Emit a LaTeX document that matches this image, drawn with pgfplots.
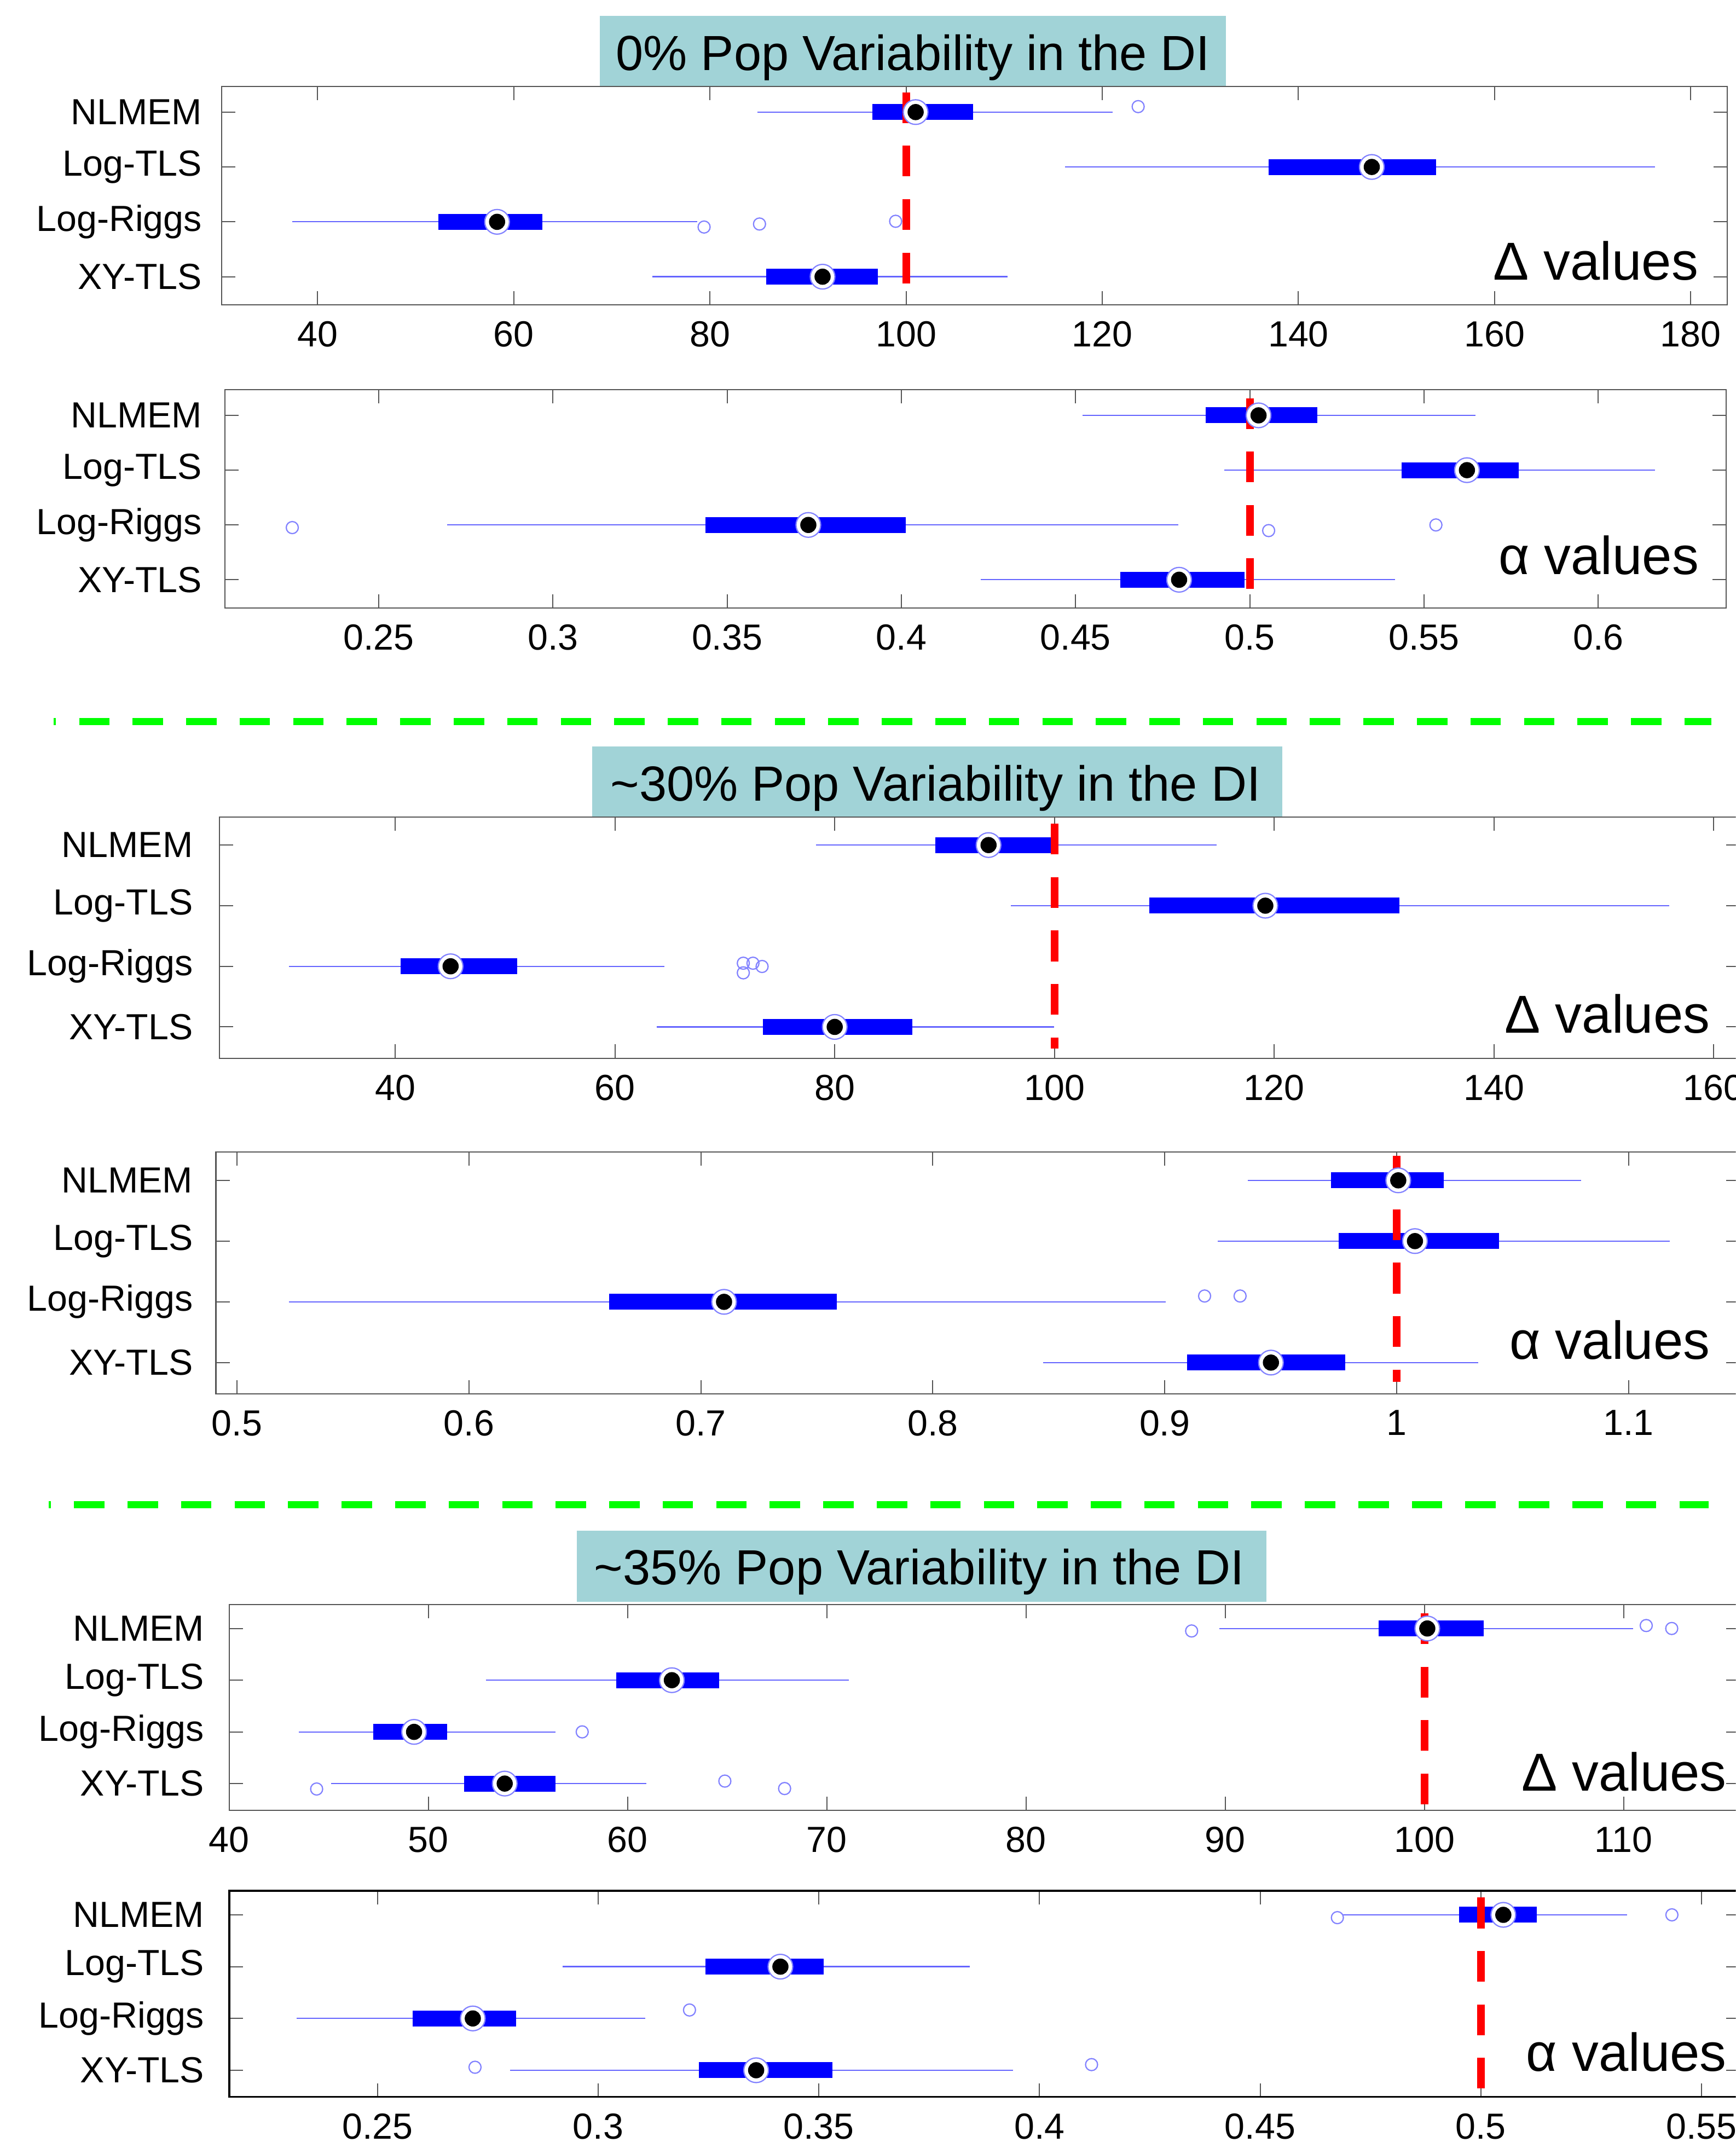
\documentclass[border=0pt]{standalone}
\usepackage{pgfplots}
\pgfplotsset{compat=1.18}
\usepackage{fontspec}
\setmainfont{Liberation Sans}
\definecolor{axgray}{RGB}{85,85,85}
\definecolor{whisk}{RGB}{100,100,255}
\definecolor{outl}{RGB}{130,130,255}
\definecolor{titlebg}{RGB}{161,211,215}
\definecolor{boxblue}{RGB}{0,0,255}
\definecolor{dgreen}{RGB}{0,255,0}
\pgfplotsset{
 bp/.style={
  scale only axis, y dir=reverse, ymin=0.535, ymax=4.515,
  ytick={1,2,3,4}, yticklabels={NLMEM,Log-TLS,Log-Riggs,XY-TLS},
  axis line style={axgray, line width=0.4pt},
  every tick/.style={axgray, line width=0.4pt},
  major tick length=5pt,
  tick align=inside,
  minor tick num=0,
  /pgf/number format/assume math mode=true,
  ticklabel style={font=\fontsize{13.25}{15}\selectfont},
  xticklabel style={yshift=-2.5pt},
  unbounded coords=jump,
  anchor=north west,
 },
 wh/.style={whisk, line width=0.45pt, no marks},
 bx/.style={boxblue, line width=5.8pt, no marks},
 ol/.style={only marks, mark=o, mark size=2.2pt, mark options={outl, line width=0.45pt}},
 mr/.style={only marks, mark=*, mark size=4.5pt, mark options={fill=white, draw=outl, line width=0.45pt}},
 md/.style={only marks, mark=*, mark size=2.75pt, mark options={fill=black, draw=black}},
 rl/.style={red, line width=2.8pt, dash pattern=on 11.2pt off 8.3pt, no marks},
}
\begin{document}
\begin{tikzpicture}[x=0.5pt,y=-0.5pt]
\useasboundingbox (0,0) rectangle (1267,1568);
\clip (0,0) rectangle (1267,1568);

% title boxes
\fill[titlebg] (438,11.6) rectangle (895,63.2);
\node[anchor=base, inner sep=0, font=\fontsize{18}{21}\selectfont] at (666.5,51.3) {0\% Pop Variability in the DI};
\fill[titlebg] (432.3,544.8) rectangle (935.8,596.5);
\node[anchor=base, inner sep=0, font=\fontsize{18}{21}\selectfont] at (682.9,584.5) {\textasciitilde30\% Pop Variability in the DI};
\fill[titlebg] (421,1117.4) rectangle (924.5,1169.1);
\node[anchor=base, inner sep=0, font=\fontsize{18}{21}\selectfont] at (671.1,1156.6) {\textasciitilde35\% Pop Variability in the DI};

% green separators
\draw[dgreen, line width=2.7pt, dash pattern=on 11.1pt off 8.43pt, dash phase=10.3pt] (39.3,526.8) -- (1249,526.8);
\draw[dgreen, line width=2.7pt, dash pattern=on 11.1pt off 8.43pt, dash phase=10.3pt] (35.6,1098.3) -- (1247,1098.3);

% ---------- Panel 1: Delta, 0%
\begin{axis}[bp, at={(80.8pt,-31.6pt)}, width=549.5pt, height=79.7pt,
  xmin=30.18, xmax=183.7, xtick={40,60,80,100,120,140,160,180},
  yticklabel style={xshift=-3.6pt}]
\addplot[wh] coordinates {(84.82,1)(121.06,1) (nan,nan) (116.21,2)(176.38,2) (nan,nan) (37.40,3)(78.72,3) (nan,nan) (74.10,4)(110.34,4)};
\addplot[bx] coordinates {(96.56,1)(106.84,1) (nan,nan) (136.98,2)(154.03,2) (nan,nan) (52.31,3)(62.92,3) (nan,nan) (85.72,4)(97.13,4)};
\addplot[ol] coordinates {(123.66,0.90) (79.40,3.095) (85.05,3.04) (98.93,2.99)};
\addplot[mr] coordinates {(100.97,1) (147.48,2) (58.29,3) (91.48,4)};
\addplot[md] coordinates {(100.97,1) (147.48,2) (58.29,3) (91.48,4)};
\addplot[rl] coordinates {(100,0.64) (100,4.13)};
\end{axis}
\node[anchor=base east, inner sep=0, font=\fontsize{19.5}{22}\selectfont] at (1240,204.4) {Δ values};

% ---------- Panel 2: alpha, 0%
\begin{axis}[bp, at={(82pt,-142.3pt)}, width=548pt, height=79.6pt,
  xmin=0.2058, xmax=0.6367, xtick={0.25,0.3,0.35,0.4,0.45,0.5,0.55,0.6},
  xticklabels={0.25,0.3,0.35,0.4,0.45,0.5,0.55,0.6},
  yticklabel style={xshift=-4.8pt}]
\addplot[wh] coordinates {(0.4520,1)(0.5648,1) (nan,nan) (0.4927,2)(0.6163,2) (nan,nan) (0.2697,3)(0.4794,3) (nan,nan) (0.4228,4)(0.5416,4)};
\addplot[bx] coordinates {(0.4873,1)(0.5194,1) (nan,nan) (0.5435,2)(0.5772,2) (nan,nan) (0.3437,3)(0.4012,3) (nan,nan) (0.4628,4)(0.4984,4)};
\addplot[ol] coordinates {(0.2252,3.048) (0.5054,3.103) (0.5534,3.0)};
\addplot[mr] coordinates {(0.5025,1) (0.5623,2) (0.3733,3) (0.4797,4)};
\addplot[md] coordinates {(0.5025,1) (0.5623,2) (0.3733,3) (0.4797,4)};
\addplot[rl] coordinates {(0.5,0.686) (0.5,4.17)};
\end{axis}
\node[anchor=base east, inner sep=0, font=\fontsize{19.5}{22}\selectfont] at (1240.4,419.4) {α values};

% ---------- Panel 3: Delta, ~30%
\begin{axis}[bp, at={(80pt,-298.15pt)}, width=555pt, height=88.05pt,
  xmin=23.98, xmax=162.38, xtick={40,60,80,100,120,140,160},
  yticklabel style={xshift=-6.1pt}]
\addplot[wh] coordinates {(78.29,1)(114.76,1) (nan,nan) (96.02,2)(155.97,2) (nan,nan) (30.33,3)(64.48,3) (nan,nan) (63.78,4)(99.95,4)};
\addplot[bx] coordinates {(89.17,1)(99.75,1) (nan,nan) (108.61,2)(131.39,2) (nan,nan) (40.5,3)(51.08,3) (nan,nan) (73.45,4)(87.05,4)};
\addplot[ol] coordinates {(71.68,2.949) (72.56,2.949) (73.39,3.003) (71.68,3.108)};
\addplot[mr] coordinates {(94.0,1) (119.19,2) (45.04,3) (80.0,4)};
\addplot[md] coordinates {(94.0,1) (119.19,2) (45.04,3) (80.0,4)};
\addplot[rl] coordinates {(100,0.648) (100,4.36)};
\end{axis}
\node[anchor=base east, inner sep=0, font=\fontsize{19.5}{22}\selectfont] at (1248.5,754.2) {Δ values};

% ---------- Panel 4: alpha, ~30%
\begin{axis}[bp, at={(78.8pt,-420.5pt)}, width=556.2pt, height=88.25pt,
  xmin=0.4909, xmax=1.148, xtick={0.5,0.6,0.7,0.8,0.9,1.0,1.1},
  xticklabels={0.5,0.6,0.7,0.8,0.9,1,1.1},
  yticklabel style={xshift=-4.9pt}]
\addplot[wh] coordinates {(0.9358,1)(1.0795,1) (nan,nan) (0.9229,2)(1.1177,2) (nan,nan) (0.5224,3)(0.9005,3) (nan,nan) (0.8475,4)(1.0351,4)};
\addplot[bx] coordinates {(0.9716,1)(1.0203,1) (nan,nan) (0.9749,2)(1.0442,2) (nan,nan) (0.6604,3)(0.7587,3) (nan,nan) (0.9096,4)(0.9778,4)};
\addplot[ol] coordinates {(0.9172,2.904) (0.9325,2.904)};
\addplot[mr] coordinates {(1.0007,1) (1.0079,2) (0.7100,3) (0.9458,4)};
\addplot[md] coordinates {(1.0007,1) (1.0079,2) (0.7100,3) (0.9458,4)};
\addplot[rl] coordinates {(1,0.598) (1,4.32)};
\end{axis}
\node[anchor=base east, inner sep=0, font=\fontsize{19.5}{22}\selectfont] at (1248.5,992.2) {α values};

% ---------- Panel 5: Delta, ~35%
\begin{axis}[bp, at={(83.65pt,-585.6pt)}, width=551.35pt, height=75.1pt,
  xmin=40, xmax=115.83, xtick={40,50,60,70,80,90,100,110},
  xticklabels={40,50,60,70,80,90,100,110},
  yticklabel style={xshift=-5.6pt}]
\addplot[wh] coordinates {(89.70,1)(110.47,1) (nan,nan) (52.89,2)(71.10,2) (nan,nan) (43.50,3)(56.39,3) (nan,nan) (45.11,4)(60.94,4)};
\addplot[bx] coordinates {(97.70,1)(102.97,1) (nan,nan) (59.44,2)(64.60,2) (nan,nan) (47.22,3)(50.94,3) (nan,nan) (51.78,4)(56.39,4)};
\addplot[ol] coordinates {(88.31,1.048) (111.13,0.943) (112.41,1.0) (57.72,3.0) (44.39,4.105) (64.88,3.952) (67.88,4.096)};
\addplot[mr] coordinates {(100.14,1) (62.22,2) (49.28,3) (53.83,4)};
\addplot[md] coordinates {(100.14,1) (62.22,2) (49.28,3) (53.83,4)};
\addplot[rl] coordinates {(100,0.706) (100,4.40)};
\end{axis}
\node[anchor=base east, inner sep=0, font=\fontsize{19.5}{22}\selectfont] at (1260.6,1307.5) {Δ values};

% ---------- Panel 6: alpha, ~35%
\begin{axis}[bp, at={(83.65pt,-690.1pt)}, width=551.35pt, height=75.25pt,
  xmin=0.2164, xmax=0.5587, xtick={0.25,0.3,0.35,0.4,0.45,0.5,0.55},
  xticklabels={0.25,0.3,0.35,0.4,0.45,0.5,0.55},
  axis line style={black, line width=0.7pt},
  yticklabel style={xshift=-5.6pt}]
\addplot[wh] coordinates {(0.4688,1)(0.5332,1) (nan,nan) (0.2919,2)(0.3842,2) (nan,nan) (0.2317,3)(0.3107,3) (nan,nan) (0.2801,4)(0.3940,4)};
\addplot[bx] coordinates {(0.4951,1)(0.5127,1) (nan,nan) (0.3243,2)(0.3511,2) (nan,nan) (0.2580,3)(0.2814,3) (nan,nan) (0.3228,4)(0.3531,4)};
\addplot[ol] coordinates {(0.4675,1.054) (0.5433,1.0) (0.3207,2.837) (0.2721,3.942) (0.4118,3.891)};
\addplot[mr] coordinates {(0.5051,1) (0.3413,2) (0.2716,3) (0.3358,4)};
\addplot[md] coordinates {(0.5051,1) (0.3413,2) (0.2716,3) (0.3358,4)};
\addplot[rl] coordinates {(0.5,0.667) (0.5,4.357)};
\end{axis}
\node[anchor=base east, inner sep=0, font=\fontsize{19.5}{22}\selectfont] at (1260.6,1511.7) {α values};
\end{tikzpicture}
\end{document}
